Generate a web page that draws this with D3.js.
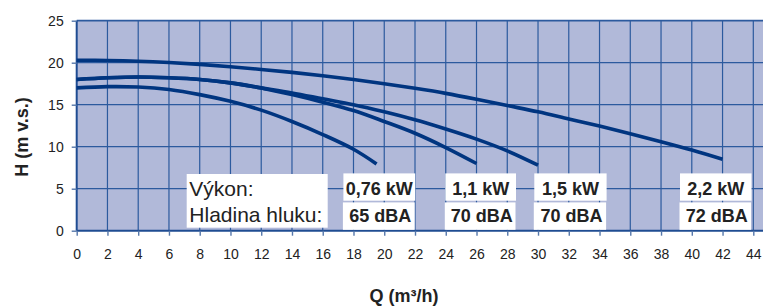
<!DOCTYPE html>
<html><head><meta charset="utf-8">
<script src="https://cdn.jsdelivr.net/npm/d3@7/dist/d3.min.js"></script>
<style>
html,body{margin:0;padding:0;background:#fff;}
svg{display:block;font-family:"Liberation Sans",Arial,Helvetica,sans-serif;}
</style></head><body>
<svg id="chart" width="763" height="307"></svg>
<script>
// ---- data ----
const xTicks = [0,2,4,6,8,10,12,14,16,18,20,22,24,26,28,30,32,34,36,38,40,42,44];
const yTicks = [0,5,10,15,20,25];
const powers = ["0,76 kW","1,1 kW","1,5 kW","2,2 kW"];
const noises = ["65 dBA","70 dBA","70 dBA","72 dBA"];
const q076 = [0,2,4,6,8,10,12,14,16,18,19.5];
const h076 = [17.0,17.15,17.1,16.8,16.2,15.4,14.35,13.0,11.45,9.7,7.95];
const q11 = [0,2,4,6,8,10,12,14,16,18,20,22,24,26];
const h11 = [18.0,18.2,18.3,18.2,18.0,17.6,17.0,16.2,15.3,14.3,13.0,11.6,9.9,8.0];
const q15 = [0,2,4,6,8,10,12,14,16,18,20,22,24,26,28,30];
const h15 = [18.0,18.2,18.3,18.2,18.0,17.6,17.0,16.4,15.7,15.0,14.15,13.2,12.1,10.9,9.5,7.8];
const q22 = [0,2,4,6,8,10,12,14,16,18,20,22,24,26,28,30,32,34,36,38,40,42];
const h22 = [20.3,20.27,20.18,20.02,19.8,19.52,19.2,18.85,18.45,18.0,17.5,16.95,16.35,15.65,14.9,14.15,13.3,12.45,11.55,10.6,9.6,8.5];
const series = [[q076,h076],[q11,h11],[q15,h15],[q22,h22]];
const labelLines = ["Výkon:","Hladina hluku:"];
const xTitle = "Q (m³/h)";
const yTitle = "H (m v.s.)";

// ---- layout ----
const L = 76.7, B = 230.7, T = 20.7, R = 763;
const x = d3.scaleLinear().domain([0,44]).range([L, 753.3]);
const y = d3.scaleLinear().domain([0,25]).range([B, T]);
const svg = d3.select("#chart");
const gridCol = "#2c5a9e", axisCol = "#1f4c92", curveCol = "#003580", txt = "#222";

svg.append("rect").attr("x",L).attr("y",T).attr("width",R-L).attr("height",B-T).attr("fill","#b1b9d9");

// grid
svg.append("g").selectAll("line").data(xTicks.slice(1)).join("line")
  .attr("x1",d=>x(d)).attr("x2",d=>x(d)).attr("y1",T).attr("y2",B)
  .attr("stroke",gridCol).attr("stroke-width",1.2);
svg.append("g").selectAll("line").data(yTicks.slice(1)).join("line")
  .attr("x1",L).attr("x2",R).attr("y1",d=>y(d)).attr("y2",d=>y(d))
  .attr("stroke",gridCol).attr("stroke-width",d=>d===25?1.8:1.2);

// axes
const xAxis = d3.axisBottom(x).tickValues(xTicks).tickSize(5).tickPadding(13);
const gx = svg.append("g").attr("transform",`translate(0,${B})`).call(xAxis);
gx.select(".domain").attr("d",`M${L},0H${R}`).attr("stroke",axisCol).attr("stroke-width",2);
gx.selectAll(".tick line").attr("stroke","#5577aa").attr("stroke-width",1.4);
gx.selectAll("text").attr("fill",txt).style("font-size","14px");
const yAxis = d3.axisLeft(y).tickValues(yTicks).tickSize(5).tickPadding(8);
const gy = svg.append("g").attr("transform",`translate(${L},0)`).call(yAxis);
gy.select(".domain").attr("d",`M0,${T}V${B}`).attr("stroke",axisCol).attr("stroke-width",2);
gy.selectAll(".tick line").attr("stroke","#5577aa").attr("stroke-width",1.4);
gy.selectAll("text").attr("fill",txt).style("font-size","14px");
svg.selectAll(".tick text").attr("font-family","'Liberation Sans',Arial,sans-serif");

// curves
const line = d3.line().x(d=>x(d[0])).y(d=>y(d[1])).curve(d3.curveCatmullRom.alpha(0.5));
svg.append("g").selectAll("path").data(series).join("path")
  .attr("d",s=>line(s[0].map((q,i)=>[q,s[1][i]])))
  .attr("fill","none").attr("stroke",curveCol).attr("stroke-width",3.6).attr("stroke-linecap","butt");

// legend
svg.append("rect").attr("x",186.7).attr("y",174).attr("width",141).attr("height",53.7).attr("fill","#fff");
svg.append("text").attr("x",189.3).attr("y",196).attr("fill",txt).style("font-size","21px").text(labelLines[0]);
svg.append("text").attr("x",189.3).attr("y",222).attr("fill",txt).style("font-size","21px").text(labelLines[1]);
const boxLeft = [343.4, 445.3, 534.3, 680];
const boxW = [71.8, 70.7, 72.3, 71.5];
const lg = svg.append("g").selectAll("g").data(powers).join("g");
lg.append("rect").attr("x",(d,i)=>boxLeft[i]).attr("y",173.4).attr("width",(d,i)=>boxW[i]).attr("height",27.3).attr("fill","#fff");
lg.append("rect").attr("x",(d,i)=>boxLeft[i]-0.5).attr("y",202.4).attr("width",(d,i)=>boxW[i]).attr("height",27.4).attr("fill","#fff");
lg.append("text").attr("x",(d,i)=>boxLeft[i]+boxW[i]/2).attr("y",195).attr("text-anchor","middle")
  .attr("fill",txt).style("font-size","18px").style("font-weight","bold").text(d=>d);
lg.append("text").attr("x",(d,i)=>boxLeft[i]+boxW[i]/2+1).attr("y",222).attr("text-anchor","middle")
  .attr("fill",txt).style("font-size","18px").style("font-weight","bold").text((d,i)=>noises[i]);

// titles
svg.append("text").attr("x",404).attr("y",302).attr("text-anchor","middle").attr("fill",txt)
  .style("font-size","18px").style("font-weight","bold").text(xTitle);
svg.append("text").attr("transform","translate(27.5,137) rotate(-90)").attr("text-anchor","middle").attr("fill",txt)
  .style("font-size","18px").style("font-weight","bold").text(yTitle);
</script>
</body></html>
